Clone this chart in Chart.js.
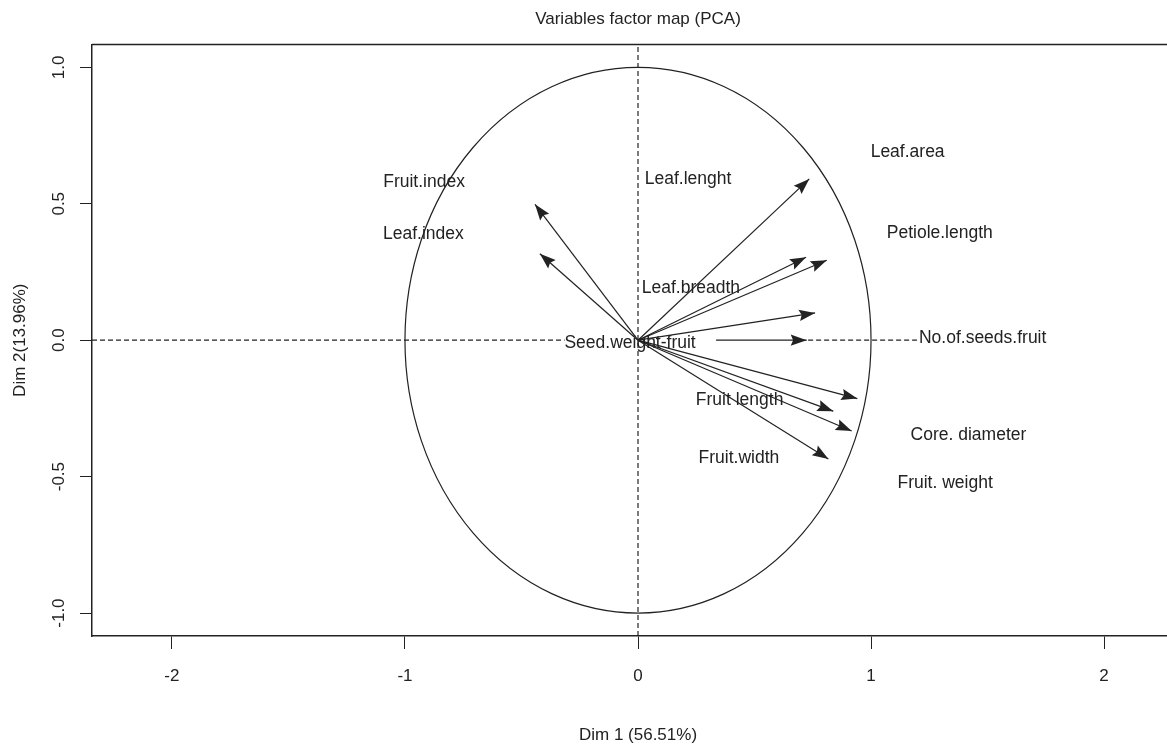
<!DOCTYPE html>
<html>
<head>
<meta charset="utf-8">
<script src="https://cdn.jsdelivr.net/npm/chart.js@4.4.1/dist/chart.umd.min.js"></script>
<style>
  html, body { margin: 0; padding: 0; background: #fff; overflow: hidden; }
  #wrap { width: 1184px; height: 746px; }
</style>
</head>
<body>
<div id="wrap"><canvas id="pca" width="1184" height="746"></canvas></div>
<script>
// arrow tips (Dim 1, Dim 2)
const arrowX = [-0.442, -0.421, 0.735, 0.721, 0.81, 0.76, 0.724, 0.941, 0.838, 0.917, 0.817];
const arrowY = [0.498, 0.317, 0.591, 0.304, 0.293, 0.1, 0, -0.214, -0.26, -0.333, -0.435];
// start of each arrow (the one on the axis starts right of the centre label)
const arrowX0 = [0, 0, 0, 0, 0, 0, 0.335, 0, 0, 0, 0];

// variable labels and where they sit
const varNames = ['Fruit.index', 'Leaf.index', 'Leaf.lenght', 'Leaf.breadth', 'Seed.weight-fruit',
  'Leaf.area', 'Petiole.length', 'No.of.seeds.fruit', 'Core. diameter', 'Fruit. weight',
  'Fruit length', 'Fruit.width'];
const labelX = [-0.918, -0.921, 0.215, 0.227, -0.034, 1.157, 1.295, 1.479, 1.418, 1.318, 0.436, 0.433];
const labelY = [0.579, 0.388, 0.591, 0.192, -0.01, 0.69, 0.391, 0.006, -0.348, -0.523, -0.22, -0.431];

const xTicks = [-2, -1, 0, 1, 2];
const yTicks = [-1, -0.5, 0, 0.5, 1];
const xRange = [-2.343, 2.343];
const yRange = [-1.084, 1.084];

const ink = '#222';
const font = 'Liberation Sans, Arial, Helvetica, sans-serif';

const datasets = [];
// dashed reference lines
datasets.push({ data: [{x: xRange[0], y: 0}, {x: -0.315, y: 0}], borderDash: [5, 3] });
datasets.push({ data: [{x: 0.73, y: 0}, {x: 1.197, y: 0}], borderDash: [5, 3] });
datasets.push({ data: [{x: 0, y: yRange[0]}, {x: 0, y: yRange[1]}], borderDash: [5, 3] });
arrowX.forEach((x, i) => {
  datasets.push({ data: [{x: arrowX0[i], y: 0}, {x: x, y: arrowY[i]}], arrow: true });
});
datasets.forEach(d => {
  d.showLine = true;
  d.pointRadius = 0;
  d.borderColor = ink;
  d.borderWidth = 1.2;
});

const circlePlugin = {
  id: 'circle',
  beforeDatasetsDraw(chart) {
    const {ctx, scales: {x, y}} = chart;
    const cx = x.getPixelForValue(0), cy = y.getPixelForValue(0);
    ctx.save();
    ctx.beginPath();
    ctx.ellipse(cx, cy, x.getPixelForValue(1) - cx, cy - y.getPixelForValue(1), 0, 0, Math.PI * 2);
    ctx.strokeStyle = ink;
    ctx.lineWidth = 1.2;
    ctx.stroke();
    ctx.restore();
  }
};

const arrowPlugin = {
  id: 'arrows',
  afterDatasetsDraw(chart) {
    const ctx = chart.ctx;
    ctx.save();
    ctx.fillStyle = ink;
    chart.data.datasets.forEach((d, i) => {
      if (!d.arrow) return;
      const pts = chart.getDatasetMeta(i).data;
      const a = pts[0], b = pts[1];
      const ang = Math.atan2(b.y - a.y, b.x - a.x);
      const len = 17, half = 0.34;
      ctx.beginPath();
      ctx.moveTo(b.x, b.y);
      ctx.lineTo(b.x - len * Math.cos(ang - half), b.y - len * Math.sin(ang - half));
      ctx.lineTo(b.x - len * 0.8 * Math.cos(ang), b.y - len * 0.8 * Math.sin(ang));
      ctx.lineTo(b.x - len * Math.cos(ang + half), b.y - len * Math.sin(ang + half));
      ctx.closePath();
      ctx.fill();
    });
    // variable names
    const {x, y} = chart.scales;
    ctx.font = '17.5px ' + font;
    ctx.textAlign = 'center';
    ctx.textBaseline = 'middle';
    varNames.forEach((n, i) => {
      ctx.fillText(n, x.getPixelForValue(labelX[i]), y.getPixelForValue(labelY[i]));
    });
    // top edge of the box
    const area = chart.chartArea;
    ctx.strokeStyle = ink;
    ctx.lineWidth = 1.5;
    ctx.beginPath();
    ctx.moveTo(area.left, area.top);
    ctx.lineTo(area.right, area.top);
    ctx.stroke();
    ctx.restore();
  }
};

new Chart(document.getElementById('pca'), {
  type: 'scatter',
  data: { datasets },
  options: {
    responsive: false,
    animation: false,
    events: [],
    layout: { padding: 0 },
    plugins: {
      legend: { display: false },
      tooltip: { enabled: false },
      title: {
        display: true,
        text: 'Variables factor map (PCA)',
        fullSize: false,
        color: ink,
        font: { family: font, size: 17, weight: 'normal' },
        padding: { top: 9, bottom: 15 }
      }
    },
    scales: {
      x: {
        type: 'linear',
        min: xRange[0],
        max: xRange[1],
        afterBuildTicks: s => { s.ticks = xTicks.map(v => ({value: v})); },
        afterFit: s => { s.height = 110; },
        border: { color: ink, width: 1.5 },
        grid: { drawOnChartArea: false, drawTicks: true, tickLength: 13, color: ink, tickColor: ink },
        ticks: { color: ink, padding: 17, font: { family: font, size: 17 }, callback: v => String(v) },
        title: { display: true, text: 'Dim 1 (56.51%)', color: ink, font: { family: font, size: 17 }, padding: { top: 0, bottom: 0 } }
      },
      y: {
        type: 'linear',
        min: yRange[0],
        max: yRange[1],
        afterBuildTicks: s => { s.ticks = yTicks.map(v => ({value: v})); },
        afterFit: s => { s.width = 92; },
        border: { color: ink, width: 1.5 },
        grid: { drawOnChartArea: false, drawTicks: true, tickLength: 12, color: ink, tickColor: ink },
        ticks: { color: ink, padding: 6, minRotation: 90, maxRotation: 90, crossAlign: 'center',
          font: { family: font, size: 17 }, callback: v => v.toFixed(1) },
        title: { display: true, text: 'Dim 2(13.96%)', color: ink, font: { family: font, size: 17 }, padding: { top: 10, bottom: 0 } }
      }
    }
  },
  plugins: [circlePlugin, arrowPlugin]
});
</script>
</body>
</html>
